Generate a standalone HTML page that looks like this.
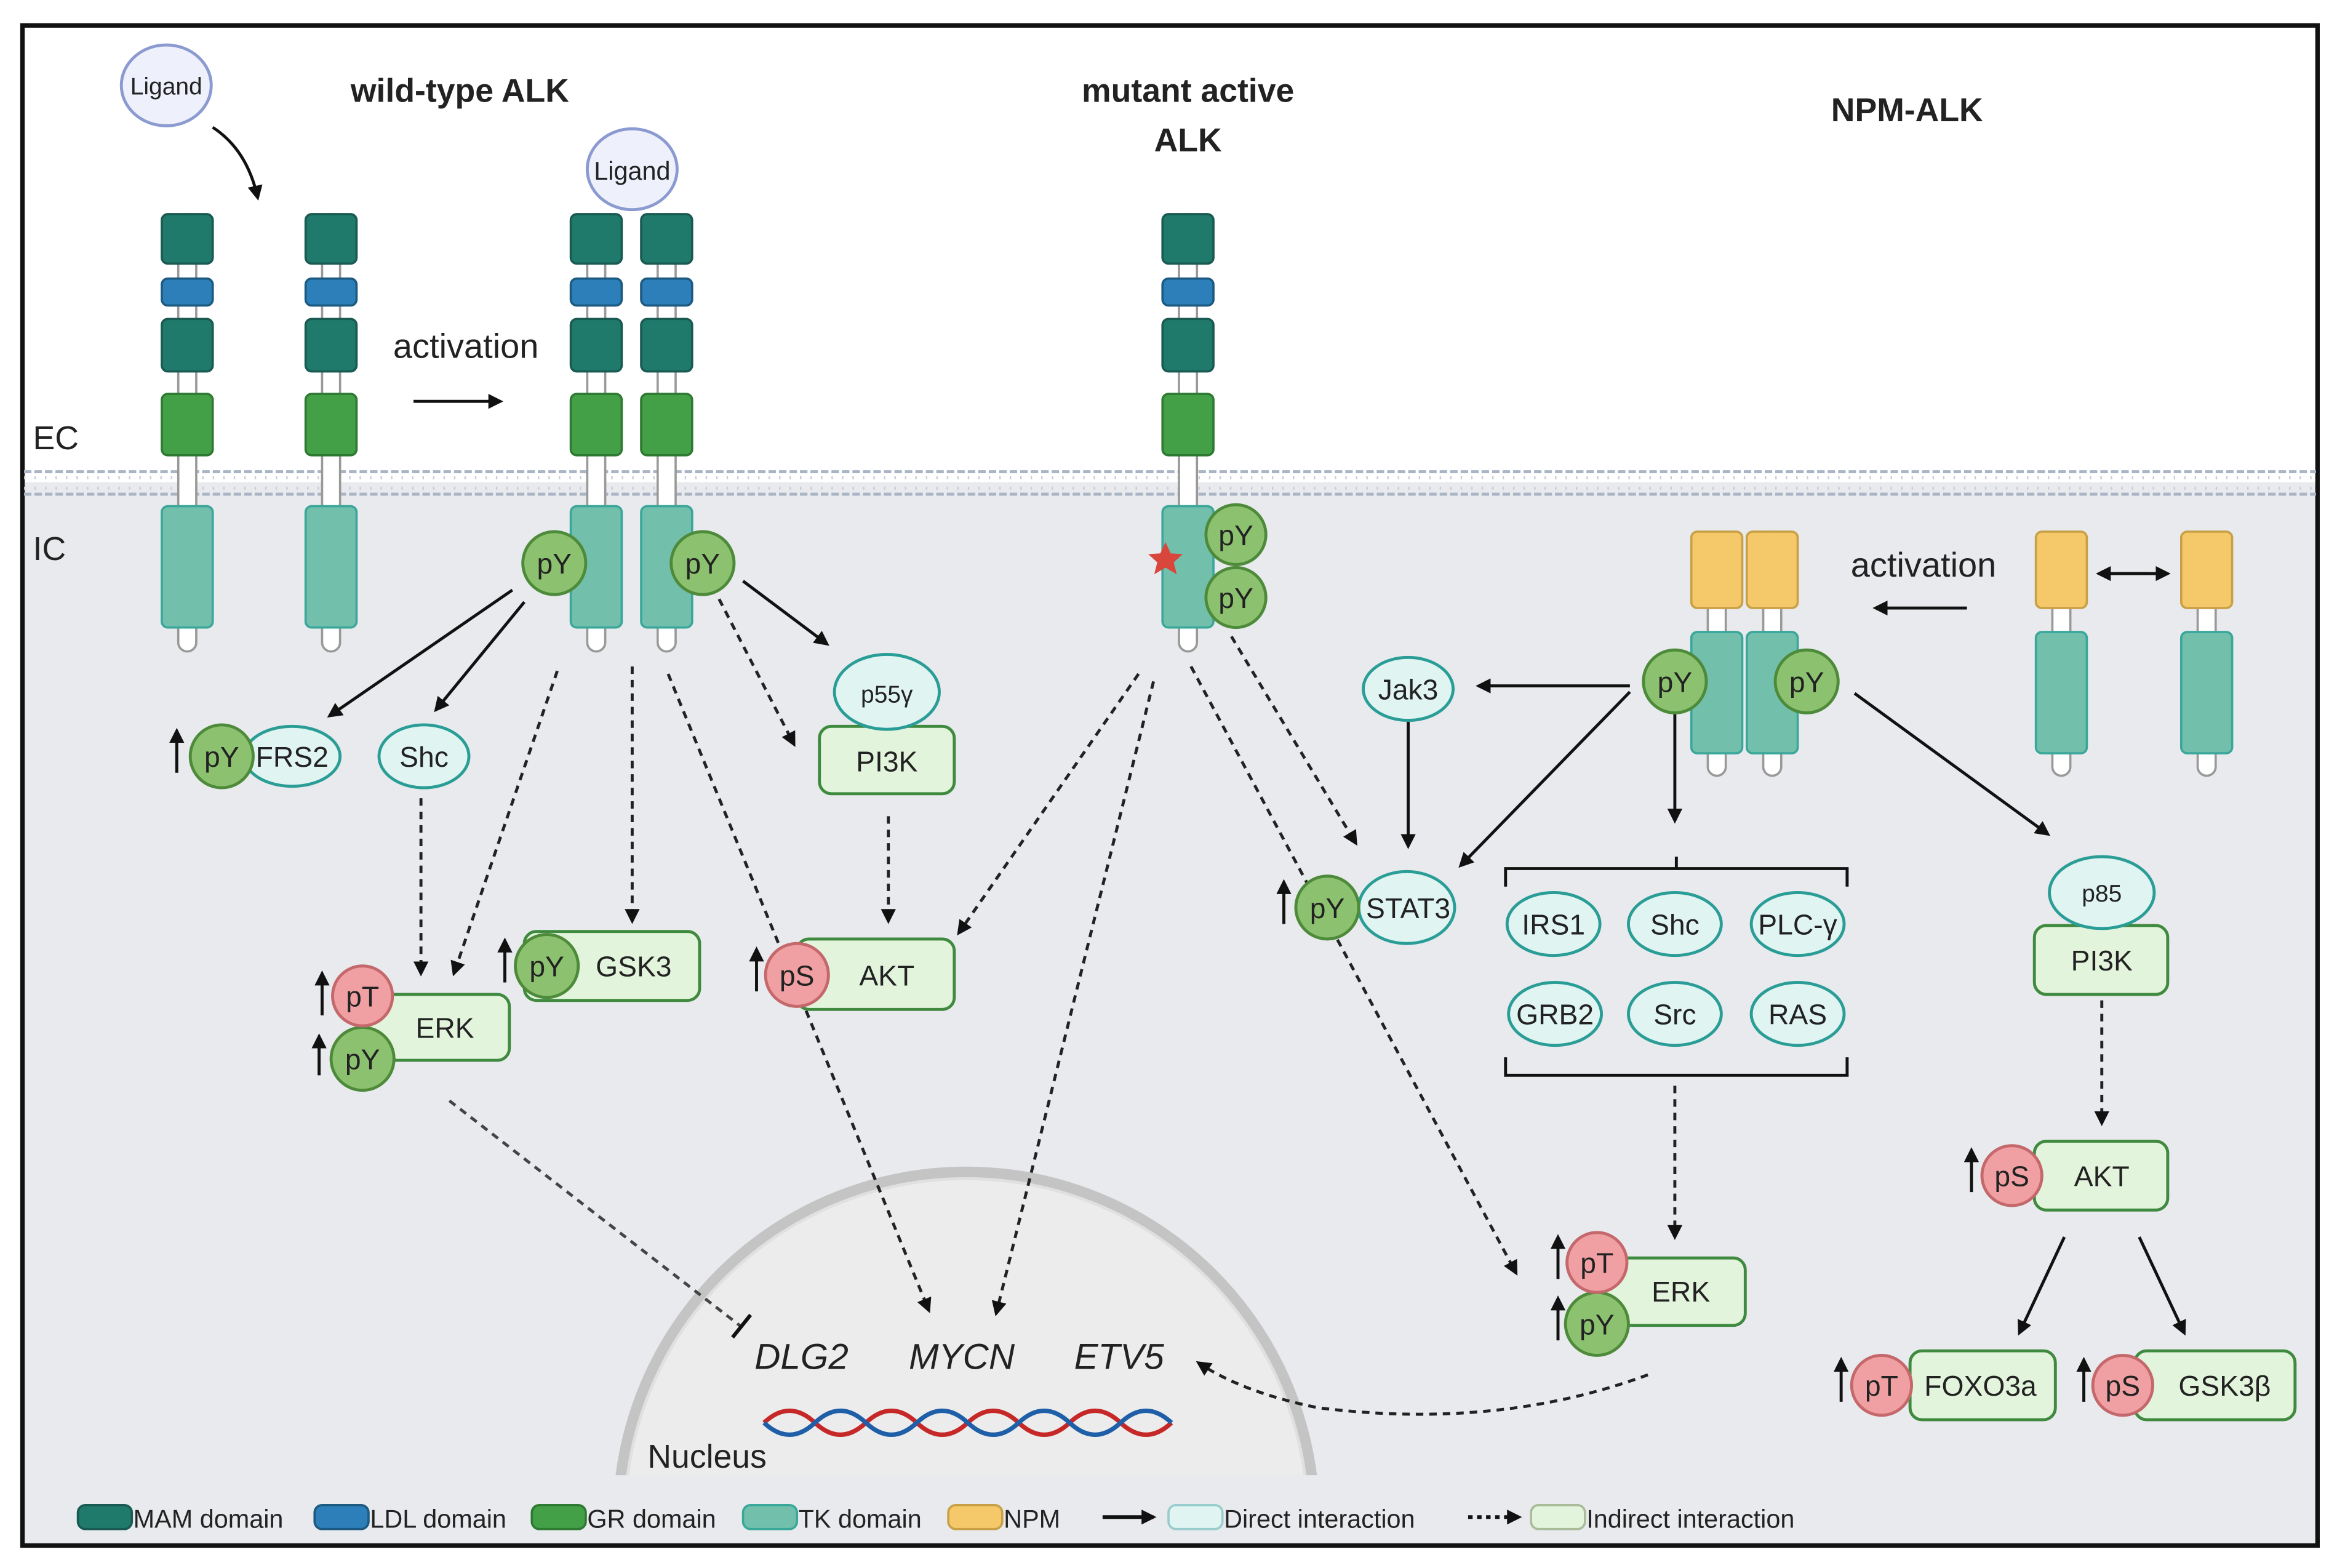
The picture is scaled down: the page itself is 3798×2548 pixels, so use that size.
<!DOCTYPE html>
<html><head><meta charset="utf-8"><style>
html,body{margin:0;padding:0;background:#fff;width:3798px;height:2548px;overflow:hidden;}
svg{display:block;}
text{font-family:"Liberation Sans",sans-serif;fill:#222;}
</style></head><body>
<svg width="3798" height="2548" viewBox="0 0 1560 1047" preserveAspectRatio="none" xmlns="http://www.w3.org/2000/svg">
<defs>
<marker id="a" markerWidth="10" markerHeight="10" refX="8" refY="5" orient="auto" markerUnits="userSpaceOnUse"><path d="M0,0 L10,5 L0,10 z" fill="#111"/></marker>
<g id="rec">
<rect x="-6" y="143" width="12" height="292" rx="6" fill="#fff" stroke="#999" stroke-width="1.5"/>
<rect x="-17" y="143" width="34" height="33" rx="4" fill="#1f7a6c" stroke="#195a52" stroke-width="1.5"/>
<rect x="-17" y="186" width="34" height="18" rx="4" fill="#2c7fb8" stroke="#1d5a82" stroke-width="1.5"/>
<rect x="-17" y="213" width="34" height="35" rx="4" fill="#1f7a6c" stroke="#195a52" stroke-width="1.5"/>
<rect x="-17" y="263" width="34" height="41" rx="4" fill="#43a047" stroke="#2e7a32" stroke-width="1.5"/>
<rect x="-17" y="338" width="34" height="81" rx="4" fill="#72c0ac" stroke="#3aa79a" stroke-width="1.5"/>
</g>
<g id="npm">
<rect x="-6" y="355" width="12" height="163" rx="6" fill="#fff" stroke="#999" stroke-width="1.5"/>
<rect x="-17" y="355" width="34" height="51" rx="4" fill="#f5c96a" stroke="#c9a046" stroke-width="1.5"/>
<rect x="-17" y="422" width="34" height="81" rx="4" fill="#72c0ac" stroke="#3aa79a" stroke-width="1.5"/>
</g>
<clipPath id="nc"><rect x="0" y="0" width="1560" height="985"/></clipPath>
</defs>
<rect width="1560" height="1047" fill="#fff"/>
<rect x="15" y="322" width="1532" height="710" fill="#e8eaed"/>
<rect x="15" y="17" width="1532" height="1015" fill="none" stroke="#111" stroke-width="3"/>
<g stroke="#a9b4c4" stroke-width="2">
<line x1="16" y1="315" x2="1546" y2="315" stroke-dasharray="5 2"/>
<line x1="16" y1="330" x2="1546" y2="330" stroke-dasharray="5 2"/>
<line x1="16" y1="319" x2="1546" y2="319" stroke-dasharray="1 6" stroke="#c5cdd8"/>
<line x1="16" y1="326" x2="1546" y2="326" stroke-dasharray="1 6" stroke="#c5cdd8"/>
</g>
<g clip-path="url(#nc)">
<circle cx="645" cy="1015" r="232" fill="#ececec" stroke="#c4c4c4" stroke-width="8"/>
<circle cx="645" cy="1015" r="228" fill="none" stroke="#e0e0e0" stroke-width="2"/>
</g>
<path d="M510,950 q17,-16 34,0 t34,0 t34,0 t34,0 t34,0 t34,0 t34,0 t34,0" fill="none" stroke="#c62828" stroke-width="3"/>
<path d="M510,950 q17,16 34,0 t34,0 t34,0 t34,0 t34,0 t34,0 t34,0 t34,0" fill="none" stroke="#1e5fa8" stroke-width="3"/>
<text x="535" y="914" font-size="24" font-style="italic" text-anchor="middle">DLG2</text>
<text x="642" y="914" font-size="24" font-style="italic" text-anchor="middle">MYCN</text>
<text x="747" y="914" font-size="24" font-style="italic" text-anchor="middle">ETV5</text>
<text x="472" y="980" font-size="22" text-anchor="middle">Nucleus</text>
<text x="307" y="68" font-size="22" font-weight="bold" text-anchor="middle">wild-type ALK</text>
<text x="793" y="68" font-size="22" font-weight="bold" text-anchor="middle">mutant active</text>
<text x="793" y="101" font-size="22" font-weight="bold" text-anchor="middle">ALK</text>
<text x="1273" y="81" font-size="22" font-weight="bold" text-anchor="middle">NPM-ALK</text>
<text x="22" y="300" font-size="22">EC</text>
<text x="22" y="374" font-size="22">IC</text>
<text x="311" y="239" font-size="23" text-anchor="middle">activation</text>
<text x="1284" y="385" font-size="23" text-anchor="middle">activation</text>
<use href="#rec" x="125"/><use href="#rec" x="221"/><use href="#rec" x="398"/><use href="#rec" x="445"/><use href="#rec" x="793"/>
<use href="#npm" x="1146"/><use href="#npm" x="1183"/><use href="#npm" x="1376"/><use href="#npm" x="1473"/>
<ellipse cx="111" cy="57" rx="30" ry="27" fill="#eef0fb" stroke="#8b9ad0" stroke-width="2"/>
<text x="111" y="63" font-size="16" text-anchor="middle">Ligand</text>
<ellipse cx="422" cy="113" rx="30" ry="27" fill="#eef0fb" stroke="#8b9ad0" stroke-width="2"/>
<text x="422" y="120" font-size="17" text-anchor="middle">Ligand</text>
<path d="M142,85 Q165,100 172,132" fill="none" stroke="#111" stroke-width="2" marker-end="url(#a)"/>
<path d="M778,362 l3.5,7.5 8,0.5 -6,5.5 2,8 -7.5,-4.5 -7.5,4.5 2,-8 -6,-5.5 8,-0.5z" fill="#d9463b"/>
<g stroke="#111" stroke-width="2" fill="none" marker-end="url(#a)">
<line x1="276" y1="268" x2="334" y2="268"/>
<line x1="342" y1="394" x2="220" y2="478"/>
<line x1="350" y1="402" x2="291" y2="474"/>
<line x1="496" y1="388" x2="552" y2="430"/>
<line x1="1313" y1="406" x2="1252" y2="406"/>
<line x1="1088" y1="458" x2="987" y2="458"/>
<line x1="1088" y1="462" x2="975" y2="578"/>
<line x1="1118" y1="475" x2="1118" y2="548"/>
<line x1="940" y1="482" x2="940" y2="565"/>
<line x1="1238" y1="463" x2="1367" y2="557"/>
<line x1="1378" y1="826" x2="1348" y2="890"/>
<line x1="1428" y1="826" x2="1458" y2="890"/>
<line x1="1414" y1="383" x2="1447" y2="383"/>
<line x1="1434" y1="383" x2="1401" y2="383"/>
</g>
<g stroke="#222" stroke-width="2" fill="none" stroke-dasharray="5 4" marker-end="url(#a)">
<line x1="372" y1="448" x2="303" y2="650"/>
<line x1="281" y1="533" x2="281" y2="650"/>
<line x1="422" y1="445" x2="422" y2="615"/>
<line x1="446" y1="450" x2="620" y2="875"/>
<line x1="480" y1="400" x2="530" y2="497"/>
<line x1="593" y1="545" x2="593" y2="615"/>
<line x1="760" y1="450" x2="640" y2="623"/>
<line x1="770" y1="455" x2="665" y2="877"/>
<line x1="795" y1="445" x2="1012" y2="850"/>
<line x1="822" y1="425" x2="905" y2="563"/>
<line x1="1118" y1="725" x2="1118" y2="826"/>
<line x1="1403" y1="668" x2="1403" y2="750"/>
<path d="M1100,918 Q1000,955 880,940 Q830,930 800,910"/>
</g>
<line x1="300" y1="735" x2="495" y2="886" stroke="#444" stroke-width="2" stroke-dasharray="5 4"/>
<line x1="489" y1="893" x2="501" y2="878" stroke="#111" stroke-width="2.5"/>
<path d="M1005,592 V580 H1233 V592 M1119,580 V572 M1005,706 V718 H1233 V706" fill="none" stroke="#111" stroke-width="2"/>
<g fill="#e3f4dc" stroke="#3f8a3f" stroke-width="2">
<rect x="242" y="664" width="98" height="44" rx="8"/>
<rect x="350" y="622" width="117" height="46" rx="8"/>
<rect x="547" y="485" width="90" height="45" rx="8"/>
<rect x="532" y="627" width="105" height="47" rx="8"/>
<rect x="1358" y="618" width="89" height="46" rx="8"/>
<rect x="1358" y="762" width="89" height="46" rx="8"/>
<rect x="1065" y="840" width="100" height="45" rx="8"/>
<rect x="1275" y="902" width="97" height="46" rx="8"/>
<rect x="1425" y="902" width="107" height="46" rx="8"/>
</g>
<g fill="#e0f4f2" stroke="#2a9d96" stroke-width="2">
<ellipse cx="195" cy="505" rx="32" ry="20"/>
<ellipse cx="283" cy="505" rx="30" ry="21"/>
<ellipse cx="592" cy="462" rx="35" ry="25"/>
<ellipse cx="940" cy="460" rx="30" ry="21"/>
<ellipse cx="939" cy="606" rx="32" ry="24"/>
<ellipse cx="1037" cy="617" rx="31" ry="21"/>
<ellipse cx="1118" cy="617" rx="31" ry="21"/>
<ellipse cx="1200" cy="617" rx="31" ry="21"/>
<ellipse cx="1038" cy="677" rx="31" ry="21"/>
<ellipse cx="1118" cy="677" rx="31" ry="21"/>
<ellipse cx="1200" cy="677" rx="31" ry="21"/>
<ellipse cx="1403" cy="596" rx="35" ry="24"/>
</g>
<g fill="#8cc26f" stroke="#4d8a3a" stroke-width="2">
<circle cx="370" cy="376" r="21"/><circle cx="469" cy="376" r="21"/>
<circle cx="825" cy="357" r="20"/><circle cx="825" cy="399" r="20"/>
<circle cx="1118" cy="455" r="21"/><circle cx="1206" cy="455" r="21"/>
<circle cx="148" cy="505" r="21"/><circle cx="242" cy="707" r="21"/>
<circle cx="365" cy="645" r="21"/><circle cx="886" cy="606" r="21"/>
<circle cx="1066" cy="884" r="21"/>
</g>
<g fill="#f0a0a2" stroke="#c4686c" stroke-width="2">
<circle cx="242" cy="665" r="20"/><circle cx="532" cy="651" r="21"/>
<circle cx="1343" cy="785" r="20"/><circle cx="1066" cy="843" r="20"/>
<circle cx="1256" cy="925" r="20"/><circle cx="1417" cy="925" r="20"/>
</g>
<g stroke="#111" stroke-width="2" marker-end="url(#a)">
<line x1="118" y1="516" x2="118" y2="488"/><line x1="215" y1="678" x2="215" y2="650"/>
<line x1="213" y1="718" x2="213" y2="692"/><line x1="337" y1="656" x2="337" y2="628"/>
<line x1="505" y1="662" x2="505" y2="634"/><line x1="857" y1="617" x2="857" y2="589"/>
<line x1="1316" y1="796" x2="1316" y2="768"/><line x1="1040" y1="854" x2="1040" y2="826"/>
<line x1="1040" y1="895" x2="1040" y2="867"/><line x1="1229" y1="936" x2="1229" y2="908"/>
<line x1="1391" y1="936" x2="1391" y2="908"/>
</g>
<g font-size="19" text-anchor="middle">
<text x="370" y="383">pY</text><text x="469" y="383">pY</text>
<text x="825" y="364">pY</text><text x="825" y="406">pY</text>
<text x="1118" y="462">pY</text><text x="1206" y="462">pY</text>
<text x="148" y="512">pY</text><text x="195" y="512">FRS2</text>
<text x="283" y="512">Shc</text>
<text x="242" y="672">pT</text><text x="242" y="714">pY</text><text x="297" y="693">ERK</text>
<text x="365" y="652">pY</text><text x="423" y="652">GSK3</text>
<text x="592" y="469" font-size="16">p55γ</text><text x="592" y="515">PI3K</text>
<text x="532" y="658">pS</text><text x="592" y="658">AKT</text>
<text x="940" y="467">Jak3</text>
<text x="886" y="613">pY</text><text x="940" y="613">STAT3</text>
<text x="1037" y="624">IRS1</text><text x="1118" y="624">Shc</text><text x="1200" y="624">PLC-γ</text>
<text x="1038" y="684">GRB2</text><text x="1118" y="684">Src</text><text x="1200" y="684">RAS</text>
<text x="1403" y="602" font-size="16">p85</text><text x="1403" y="648">PI3K</text>
<text x="1343" y="792">pS</text><text x="1403" y="792">AKT</text>
<text x="1066" y="850">pT</text><text x="1066" y="891">pY</text><text x="1122" y="869">ERK</text>
<text x="1256" y="932">pT</text><text x="1322" y="932">FOXO3a</text>
<text x="1417" y="932">pS</text><text x="1485" y="932">GSK3β</text>
</g>
<g stroke-width="1.5">
<rect x="52" y="1005" width="36" height="16" rx="5" fill="#1f7a6c" stroke="#195a52"/>
<rect x="210" y="1005" width="36" height="16" rx="5" fill="#2c7fb8" stroke="#1d5a82"/>
<rect x="355" y="1005" width="36" height="16" rx="5" fill="#43a047" stroke="#2e7a32"/>
<rect x="496" y="1005" width="36" height="16" rx="5" fill="#72c0ac" stroke="#3aa79a"/>
<rect x="633" y="1005" width="36" height="16" rx="5" fill="#f5c96a" stroke="#c9a046"/>
<rect x="780" y="1005" width="36" height="16" rx="5" fill="#e0f4f2" stroke="#9cc"/>
<rect x="1022" y="1005" width="36" height="16" rx="5" fill="#e3f4dc" stroke="#ab9"/>
</g>
<line x1="736" y1="1013" x2="770" y2="1013" stroke="#111" stroke-width="2.5" marker-end="url(#a)"/>
<line x1="980" y1="1013" x2="1014" y2="1013" stroke="#111" stroke-width="2.5" stroke-dasharray="3 3" marker-end="url(#a)"/>
<g font-size="17">
<text x="89" y="1020">MAM domain</text><text x="247" y="1020">LDL domain</text>
<text x="392" y="1020">GR domain</text><text x="533" y="1020">TK domain</text>
<text x="670" y="1020">NPM</text><text x="817" y="1020">Direct interaction</text>
<text x="1059" y="1020">Indirect interaction</text>
</g>
</svg>
</body></html>
